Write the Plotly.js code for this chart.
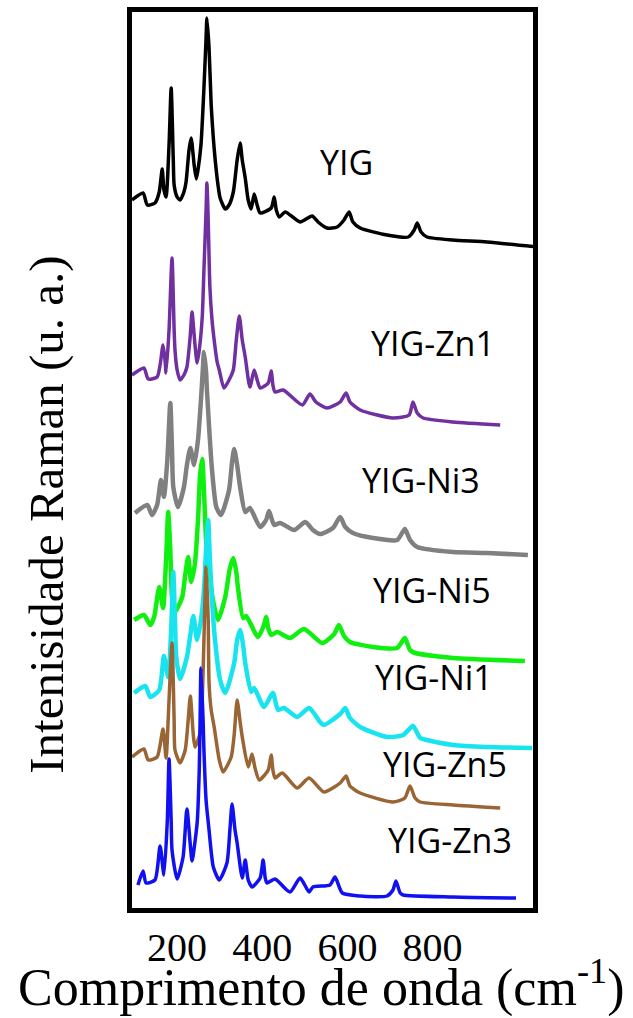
<!DOCTYPE html>
<html>
<head>
<meta charset="utf-8">
<script src="https://cdn.plot.ly/plotly-3.0.1.min.js"></script>
<style>html,body{margin:0;padding:0;background:#fff;}#chart{width:633px;height:1018px;}</style>
</head>
<body>
<div id="chart"></div>
<script>
// Wavenumber (cm-1) and stacked intensity (a.u., with vertical offset) for each spectrum
const names = ["YIG", "YIG-Zn1", "YIG-Ni3", "YIG-Ni5", "YIG-Ni1", "YIG-Zn5", "YIG-Zn3"];
const colors = ["#000000", "#7030A0", "#808080", "#10F010", "#18E4F0", "#9A6535", "#1010F0"];

const xYIG = [94,120,130,148,158,165,169,174,181,186,191,193,200,207,216,221,228,233,240,245,249,256,263,268,270,275,280,285,289,296,301,313,322,332,341,348,353,360,367,374,381,388,395,421,428,433,440,454,489,517,531,552,576,592,604,613,630,693,743,757,764,773,787,848,928,1045];
const yYIG = [708,715,703,705,716,739,718,711,763,820,748,723,711,708,716,726,758,770,743,729,738,763,820,870,890,860,803,770,750,723,710,699,703,716,748,765,748,730,708,699,714,703,695,700,711,698,691,696,686,692,686,680,681,688,696,686,680,673,671,678,685,676,671,668,666,661];

const xZn1 = [94,122,132,153,160,167,172,174,181,188,193,195,200,207,216,223,231,235,242,247,252,259,263,268,270,273,277,282,287,294,299,310,322,332,339,346,353,360,371,381,388,395,414,421,425,430,449,494,512,526,552,583,597,606,630,707,745,754,764,778,848,959];
const yZn1 = [533,540,529,531,543,563,546,535,578,650,578,558,538,528,533,541,573,596,563,545,558,591,638,698,725,688,621,588,568,546,538,520,528,538,568,592,568,551,521,538,528,520,525,537,523,516,518,503,514,506,500,506,515,506,498,490,493,506,495,490,486,483];

const xNi3 = [101,130,141,153,162,169,177,184,188,191,202,216,223,231,240,249,256,261,263,268,270,277,282,292,303,322,329,334,341,348,360,371,395,409,416,423,428,442,475,501,519,536,566,583,595,613,660,717,735,747,764,848,928,1024];
const yNi3 = [395,403,393,403,428,411,448,505,458,421,401,421,443,460,443,468,508,543,556,536,518,468,438,401,393,418,446,459,443,421,396,400,381,388,397,388,383,385,378,386,378,374,380,391,381,375,370,368,379,368,361,356,355,353];

const xNi5 = [99,122,137,146,158,167,174,179,184,188,195,212,219,226,233,242,249,254,259,263,268,275,285,296,313,324,332,339,343,355,362,390,404,409,414,421,435,465,498,541,569,580,592,606,660,717,735,747,759,848,1017];
const yNi5 = [288,293,283,291,321,300,348,396,358,311,296,311,333,351,326,345,388,433,449,418,368,338,306,288,311,340,350,336,320,290,292,271,283,291,280,273,276,270,279,265,274,283,272,266,261,260,270,258,255,250,247];

const xNi1 = [99,125,137,158,169,179,186,191,195,198,207,223,231,238,247,256,263,268,273,277,282,289,301,313,334,341,348,355,360,374,381,404,425,437,451,482,510,536,545,583,595,606,630,693,731,754,771,787,848,928,1034];
const yNi1 = [215,222,211,218,252,231,278,336,288,251,229,251,273,292,268,288,318,358,388,348,308,268,228,215,245,268,278,263,245,216,220,201,215,198,200,191,200,186,183,194,200,190,181,171,173,182,170,168,163,161,160];

const xZn5 = [94,122,132,153,167,174,181,188,193,195,207,219,226,231,238,242,254,259,263,268,273,275,280,287,299,308,327,334,341,348,353,367,376,383,393,414,421,425,430,447,482,510,545,583,597,606,630,707,735,747,759,771,848,959];
const yZn5 = [151,159,148,151,179,150,208,265,188,158,145,158,188,212,173,161,175,208,268,341,288,225,198,181,148,136,151,173,208,186,171,141,154,140,128,138,153,138,130,135,120,130,116,125,132,122,115,106,110,122,110,106,103,100];

const xZn3 = [108,120,127,148,160,169,177,181,186,188,200,214,223,231,235,247,252,254,256,261,263,268,275,285,299,317,324,329,336,341,353,360,367,376,395,402,407,411,430,465,489,510,519,559,571,588,630,693,707,714,724,731,848,996];
const yZn3 = [23,37,25,28,62,33,88,149,88,58,29,51,99,63,47,85,138,188,240,188,158,108,78,41,28,45,78,104,78,65,30,48,28,21,30,48,30,25,29,16,30,16,21,23,31,15,12,12,18,27,15,13,11,10];

const tickVals = [200, 400, 600, 800];
const tickText = ["200", "400", "600", "800"];

const xs = [xYIG, xZn1, xNi3, xNi5, xNi1, xZn5, xZn3];
const ys = [yYIG, yZn1, yNi3, yNi5, yNi1, yZn5, yZn3];
const widths = [3.5, 3.5, 4.5, 4.5, 4.5, 3.5, 3.5];

const traces = names.map((n, i) => ({
  type: "scatter", mode: "lines", name: n,
  x: xs[i], y: ys[i],
  line: {color: colors[i], width: widths[i], shape: "spline", smoothing: 0.6},
  hoverinfo: "skip"
}));

// label anchor points (data coordinates) for the sample names
const labelX = [599, 801, 773, 799, 804, 829, 841];
const labelY = [746, 565, 428, 318, 231, 144, 68];

const annotations = names.map((n, i) => ({
  text: n, x: labelX[i], y: labelY[i], xref: "x", yref: "y",
  showarrow: false, xanchor: "center", yanchor: "middle",
  font: {family: "Open Sans, sans-serif", size: 34, color: "#000"}
}));
annotations.push({
  text: "Comprimento de onda (cm<sup>-1</sup>)", xref: "paper", yref: "paper",
  x: 0.4726, y: -0.0845, showarrow: false, xanchor: "center", yanchor: "middle",
  font: {family: "Liberation Serif, serif", size: 52, color: "#000"}
});
annotations.push({
  text: "Intenisidade Raman (u. a.)", xref: "paper", yref: "paper",
  x: -0.215, y: 0.4386, showarrow: false, xanchor: "center", yanchor: "middle",
  textangle: -90,
  font: {family: "Liberation Serif, serif", size: 49, color: "#000"}
});

const layout = {
  width: 633, height: 1018,
  margin: {l: 132, r: 100, t: 12, b: 110, pad: 0},
  paper_bgcolor: "#ffffff", plot_bgcolor: "#ffffff",
  showlegend: false,
  xaxis: {
    range: [94, 1036], tickvals: tickVals, ticktext: tickText,
    ticks: "", showgrid: false, zeroline: false,
    showline: true, mirror: true, linewidth: 5, linecolor: "#000",
    tickfont: {family: "Liberation Serif, serif", size: 40, color: "#000"}
  },
  yaxis: {
    range: [0, 896], showticklabels: false, ticks: "",
    showgrid: false, zeroline: false,
    showline: true, mirror: true, linewidth: 5, linecolor: "#000"
  },
  annotations: annotations
};

Plotly.newPlot("chart", traces, layout, {displayModeBar: false, staticPlot: true});
</script>
</body>
</html>
